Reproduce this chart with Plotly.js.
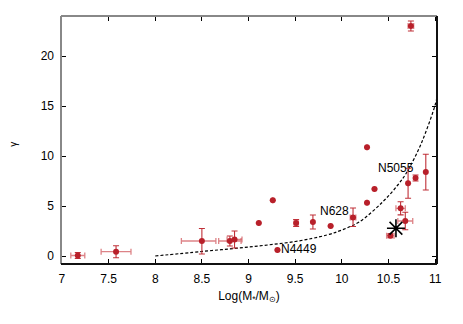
<!DOCTYPE html>
<html>
<head>
<meta charset="utf-8">
<script src="https://cdn.plot.ly/plotly-3.0.1.min.js"></script>
<style>
  html, body { margin: 0; padding: 0; background: #fff; }
  #chart { width: 463px; height: 324px; }
</style>
</head>
<body>
<div id="chart"></div>
<script>
// galaxy sample: log stellar mass vs gamma
const logMass = [7.17, 7.58, 8.50, 8.80, 8.85, 9.11, 9.26, 9.31, 9.51, 9.69, 9.88, 10.12, 10.27, 10.35, 10.27, 10.74, 10.52, 10.63, 10.68, 10.71, 10.79, 10.90];
const gamma   = [0.05, 0.43, 1.5, 1.5, 1.65, 3.3, 5.57, 0.6, 3.3, 3.4, 3.0, 3.85, 5.33, 6.7, 10.87, 23.0, 2.03, 4.77, 3.5, 7.27, 7.8, 8.4];
const xErrMinus = [0.075, 0.16, 0.22, 0.12, 0.08, 0, 0, 0, 0.02, 0, 0, 0.03, 0, 0, 0, 0.03, 0.04, 0.05, 0.08, 0, 0, 0];
const xErrPlus  = [0.075, 0.16, 0.15, 0.12, 0.08, 0, 0, 0, 0.02, 0, 0, 0.03, 0, 0, 0, 0.03, 0.04, 0.05, 0.08, 0, 0, 0];
const yErrMinus = [0.3, 0.6, 1.3, 0.5, 0.85, 0, 0, 0, 0.35, 0.7, 0, 0.9, 0, 0, 0, 0.5, 0.2, 0.66, 0.87, 1.5, 0.3, 1.8];
const yErrPlus  = [0.3, 0.6, 1.25, 0.5, 0.85, 0, 0, 0, 0.35, 0.7, 0, 0.95, 0, 0, 0, 0.5, 0.2, 0.66, 0.87, 1.5, 0.3, 1.77];

// model curve (dashed)
const modelX = [8, 8.5, 9, 9.5, 9.84, 10.0, 10.19, 10.44, 10.6, 10.69, 10.82, 10.9, 11.0, 11.03];
const modelY = [0, 0.45, 0.9, 1.45, 2.1, 2.6, 3.43, 5.43, 7.1, 8.27, 10.6, 12.4, 15.1, 16.3];

// highlighted object (star)
const starX = [10.58];
const starY = [2.77];

// labelled galaxies
const labelText = ['N5055', 'N628', 'N4449'];
const labelX = [10.585, 9.92, 9.545];
const labelY = [8.8, 4.53, 0.67];

const red = '#b8202a';

const model = {
    x: modelX, y: modelY,
    mode: 'lines', type: 'scatter',
    line: { color: '#000', width: 1.2, dash: '3px,2px', shape: 'spline' },
    hoverinfo: 'skip'
};

const galaxies = {
    x: logMass, y: gamma,
    mode: 'markers', type: 'scatter',
    marker: { color: red, size: 6, symbol: 'circle' },
    error_x: {
        type: 'data', symmetric: false,
        array: xErrPlus, arrayminus: xErrMinus,
        color: 'rgba(210,90,95,0.75)', thickness: 1.3, width: 3
    },
    error_y: {
        type: 'data', symmetric: false,
        array: yErrPlus, arrayminus: yErrMinus,
        color: '#c03038', thickness: 1.1, width: 3
    }
};

const star = {
    x: starX, y: starY,
    mode: 'markers', type: 'scatter',
    marker: { symbol: 'asterisk-open', size: 15, color: '#000', line: { color: '#000', width: 1.6 } }
};

const annotations = labelText.map((t, i) => ({
    x: labelX[i], y: labelY[i], xref: 'x', yref: 'y',
    text: t, showarrow: false,
    font: { size: 12, color: '#000' }
}));

// y-axis label (small rotated gamma)
annotations.push({
    x: -0.145, y: 0.485, xref: 'paper', yref: 'paper',
    text: 'γ', showarrow: false, textangle: -90,
    font: { size: 10, color: '#000' }
});

const frame = [
    { type: 'line', xref: 'paper', yref: 'paper', x0: 0, x1: 0, y0: 0, y1: 1, line: { color: '#888', width: 2 } },
    { type: 'line', xref: 'paper', yref: 'paper', x0: 0, x1: 1, y0: 1, y1: 1, line: { color: '#888', width: 2 } },
    { type: 'line', xref: 'paper', yref: 'paper', x0: 1, x1: 1, y0: 0, y1: 1, line: { color: '#111', width: 2 } },
    { type: 'line', xref: 'paper', yref: 'paper', x0: 0, x1: 1, y0: 0, y1: 0, line: { color: '#111', width: 2 } }
];

const layout = {
    width: 463, height: 324,
    margin: { l: 61, r: 26, t: 16, b: 60 },
    paper_bgcolor: '#fff', plot_bgcolor: '#fff',
    font: { family: '"Liberation Sans", Arial, sans-serif', size: 12, color: '#000' },
    showlegend: false,
    xaxis: {
        range: [6.99, 11.02],
        tick0: 7, dtick: 0.5,
        ticks: 'inside', ticklen: 5, tickcolor: '#000',
        mirror: 'allticks', showline: false,
        showgrid: false, zeroline: false,
        tickfont: { size: 12 },
        ticklabelstandoff: 6,
        title: { text: 'Log(M<sub>*</sub>/M<sub>⊙</sub>)', font: { size: 12 }, standoff: 6 }
    },
    yaxis: {
        range: [-0.8, 24],
        tick0: 0, dtick: 5,
        ticks: 'inside', ticklen: 5, tickcolor: '#000',
        mirror: 'allticks', showline: false,
        showgrid: false, zeroline: false,
        tickfont: { size: 12 },
        ticklabelstandoff: 6
    },
    shapes: frame,
    annotations: annotations
};

Plotly.newPlot('chart', [model, galaxies, star], layout, { displayModeBar: false, staticPlot: true });
</script>
</body>
</html>
